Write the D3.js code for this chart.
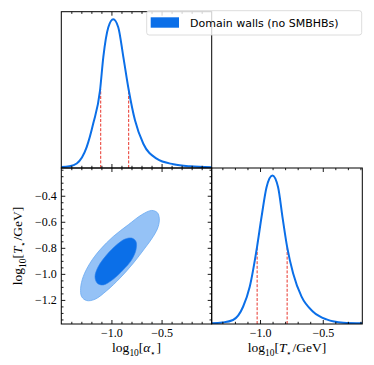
<!DOCTYPE html>
<html>
<head>
<meta charset="utf-8">
<script src="https://cdn.jsdelivr.net/npm/d3@7.9.0/dist/d3.min.js"></script>
<style>
  body { margin: 0; background: #fff; }
  svg { display: block; }
  .tick text { font-family: "Liberation Serif", serif; font-size: 12px; fill: #000; }
</style>
</head>
<body>
<svg id="chart" width="374" height="365"></svg>
<script>
// marginal of log10 alpha, normalised to its peak
const alphaGrid = [-1.5, -1.42, -1.346, -1.247, -1.181, -1.114, -1.081, -1.031, -0.982, -0.932, -0.881, -0.828, -0.765, -0.682, -0.549, -0.382, -0.217, 0.0];
const alphaDens = [0.007, 0.012, 0.03, 0.14, 0.30, 0.52, 0.745, 0.946, 1.0, 0.946, 0.745, 0.526, 0.32, 0.163, 0.063, 0.025, 0.011, 0.005];
const alphaQ = [-1.107, -0.828];
const alphaQDens = [0.53, 0.526];

// marginal of log10 T
const tGrid = [-1.385, -1.3, -1.215, -1.135, -1.082, -1.023, -0.988, -0.948, -0.901, -0.856, -0.821, -0.784, -0.736, -0.669, -0.577, -0.47, -0.337, -0.185];
const tDens = [0.005, 0.01, 0.027, 0.116, 0.251, 0.523, 0.72, 0.921, 1.0, 0.921, 0.72, 0.519, 0.34, 0.184, 0.083, 0.031, 0.009, 0.005];
const tQ = [-1.023, -0.784];
const tQDens = [0.523, 0.519];

// 2d credible regions (outer 95%, inner 68%)
const outerAlpha = [-0.599, -0.543, -0.523, -0.533, -0.583, -0.666, -0.782, -0.915, -1.047, -1.164, -1.247, -1.297, -1.307, -1.281, -1.214, -1.114, -0.982, -0.832, -0.698];
const outerT = [-0.513, -0.529, -0.572, -0.636, -0.713, -0.802, -0.918, -1.033, -1.129, -1.195, -1.205, -1.175, -1.110, -1.021, -0.918, -0.815, -0.713, -0.623, -0.546];
const innerAlpha = [-0.798, -0.755, -0.755, -0.798, -0.882, -0.982, -1.081, -1.141, -1.164, -1.131, -1.047, -0.948, -0.865];
const innerT = [-0.725, -0.752, -0.815, -0.892, -0.969, -1.041, -1.085, -1.072, -1.021, -0.944, -0.854, -0.777, -0.733];

// ticks
const alphaMajor = [-1.0, -0.5];
const alphaMinor = [-1.4, -1.3, -1.2, -1.1, -0.9, -0.8, -0.7, -0.6, -0.4, -0.3, -0.2, -0.1];
const tMajorX = [-1.0, -0.5];
const tMinorX = [-1.3, -1.2, -1.1, -0.9, -0.8, -0.7, -0.6, -0.4, -0.3, -0.2];
const tMajorY = [-1.2, -1.0, -0.8, -0.6, -0.4];
const tMinorY = [-1.35, -1.3, -1.25, -1.15, -1.1, -1.05, -0.95, -0.9, -0.85, -0.75, -0.7, -0.65, -0.55, -0.5, -0.45, -0.35, -0.3, -0.25, -0.2];

const legendLabel = "Domain walls (no SMBHBs)";

const blue = "#0b6fe8";
const red = "#e8352b";

const x0 = 61.3, x1 = 211.7, x2 = 362.3;
const y0 = 11.7, y1 = 168, y2 = 324;

const svg = d3.select("#chart");

const xAlpha = d3.scaleLinear().domain([-1.5, 0]).range([x0, x1]);
const xT = d3.scaleLinear().domain([-1.385, -0.185]).range([x1, x2]);
const yT = d3.scaleLinear().domain([-1.385, -0.187]).range([y2, y1]);
const yTop = d3.scaleLinear().domain([0, 1.05]).range([y1, y0]);
const yBot = d3.scaleLinear().domain([0, 1.05]).range([y2, y1]);

const fmt = d3.format(".1f");

function addAxis(orient, scale, major, minor, labels, tx, ty) {
  const make = { bottom: d3.axisBottom, top: d3.axisTop, left: d3.axisLeft, right: d3.axisRight }[orient];
  const g = svg.append("g").attr("transform", `translate(${tx},${ty})`);
  g.append("g").call(make(scale).tickValues(minor).tickSize(-2.2).tickFormat(""));
  g.append("g").call(make(scale).tickValues(major).tickSize(-4).tickPadding(4.5).tickFormat(labels ? fmt : ""));
  g.selectAll(".domain").remove();
  g.selectAll("line").attr("stroke", "#000").attr("stroke-width", 0.9);
}

// clip paths
const defs = svg.append("defs");
[["cTL", x0, y0, x1 - x0, y1 - y0], ["cBL", x0, y1, x1 - x0, y2 - y1], ["cBR", x1, y1, x2 - x1, y2 - y1]].forEach(([id, x, y, w, h]) => {
  defs.append("clipPath").attr("id", id).append("rect").attr("x", x).attr("y", y).attr("width", w).attr("height", h);
});

// top-left: alpha marginal
const gTL = svg.append("g").attr("clip-path", "url(#cTL)");
alphaQ.forEach((q, i) => {
  gTL.append("line")
    .attr("x1", xAlpha(q)).attr("x2", xAlpha(q))
    .attr("y1", yTop(0)).attr("y2", yTop(alphaQDens[i]))
    .attr("stroke", red).attr("stroke-width", 1).attr("stroke-dasharray", "3,1.6");
});
gTL.append("path")
  .attr("d", d3.line().x(d => xAlpha(d)).y((d, i) => yTop(alphaDens[i])).curve(d3.curveMonotoneX)(alphaGrid))
  .attr("fill", "none").attr("stroke", blue).attr("stroke-width", 2);

// bottom-left: 2d contours
const gBL = svg.append("g").attr("clip-path", "url(#cBL)");
const contour = d3.line().curve(d3.curveCatmullRomClosed.alpha(0.5));
gBL.append("path")
  .attr("d", contour(outerAlpha.map((a, i) => [xAlpha(a), yT(outerT[i])])))
  .attr("fill", "#95c2f6").attr("stroke", "#6aa9f1").attr("stroke-width", 0.8);
gBL.append("path")
  .attr("d", contour(innerAlpha.map((a, i) => [xAlpha(a), yT(innerT[i])])))
  .attr("fill", blue).attr("stroke", "#2a80ec").attr("stroke-width", 0.6);

// bottom-right: T marginal
const gBR = svg.append("g").attr("clip-path", "url(#cBR)");
tQ.forEach((q, i) => {
  gBR.append("line")
    .attr("x1", xT(q)).attr("x2", xT(q))
    .attr("y1", yBot(0)).attr("y2", yBot(tQDens[i]))
    .attr("stroke", red).attr("stroke-width", 1).attr("stroke-dasharray", "3,1.6");
});
gBR.append("path")
  .attr("d", d3.line().x(d => xT(d)).y((d, i) => yBot(tDens[i])).curve(d3.curveMonotoneX)(tGrid))
  .attr("fill", "none").attr("stroke", blue).attr("stroke-width", 2);

// ticks
addAxis("bottom", xAlpha, alphaMajor, alphaMinor, false, 0, y1);
addAxis("top", xAlpha, alphaMajor, alphaMinor, false, 0, y0);
addAxis("bottom", xAlpha, alphaMajor, alphaMinor, true, 0, y2);
addAxis("top", xAlpha, alphaMajor, alphaMinor, false, 0, y1);
addAxis("left", yT, tMajorY, tMinorY, true, x0, 0);
addAxis("right", yT, tMajorY, tMinorY, false, x1, 0);
addAxis("bottom", xT, tMajorX, tMinorX, true, 0, y2);
addAxis("top", xT, tMajorX, tMinorX, false, 0, y1);

// frames
[[x0, y0, x1 - x0, y1 - y0], [x0, y1, x1 - x0, y2 - y1], [x1, y1, x2 - x1, y2 - y1]].forEach(([x, y, w, h]) => {
  svg.append("rect").attr("x", x).attr("y", y).attr("width", w).attr("height", h)
    .attr("fill", "none").attr("stroke", "#000").attr("stroke-width", 1);
});

// math-style axis titles
function mathText(g, parts, size) {
  const t = g.append("text")
    .attr("font-family", "'Liberation Serif', 'DejaVu Serif', serif")
    .attr("font-size", size).attr("text-anchor", "middle").attr("fill", "#000");
  let shift = 0;
  parts.forEach(p => {
    const want = p.sub ? 3.5 : 0;
    t.append("tspan")
      .attr("dy", want - shift)
      .attr("font-size", p.sub ? size * 0.7 : size)
      .attr("font-style", p.it ? "italic" : "normal")
      .text(p.t);
    shift = want;
  });
  return t;
}
const alphaTitle = [{ t: "log" }, { t: "10", sub: true }, { t: "[" }, { t: "α", it: true }, { t: "⋆", sub: true }, { t: "]" }];
const tTitle = [{ t: "log" }, { t: "10", sub: true }, { t: "[" }, { t: "T", it: true }, { t: "⋆", sub: true }, { t: "/GeV]" }];

mathText(svg.append("g").attr("transform", `translate(${(x0 + x1) / 2},352)`), alphaTitle, 13.5);
mathText(svg.append("g").attr("transform", `translate(${(x1 + x2) / 2},352)`), tTitle, 13.5);
mathText(svg.append("g").attr("transform", `translate(22,${(y1 + y2) / 2}) rotate(-90)`), tTitle, 13.5);

// legend
const lg = svg.append("g");
lg.append("rect").attr("x", 146.7).attr("y", 10.7).attr("width", 215).attr("height", 24.3)
  .attr("rx", 2.5).attr("fill", "#fff").attr("fill-opacity", 0.8)
  .attr("stroke", "#d3d3d3").attr("stroke-width", 0.8);
lg.append("rect").attr("x", 150.7).attr("y", 17.3).attr("width", 28.3).attr("height", 10.4).attr("fill", blue);
lg.append("text").attr("x", 190).attr("y", 27)
  .attr("font-family", "'DejaVu Sans', sans-serif").attr("font-size", 11).attr("fill", "#000")
  .text(legendLabel);
</script>
</body>
</html>
